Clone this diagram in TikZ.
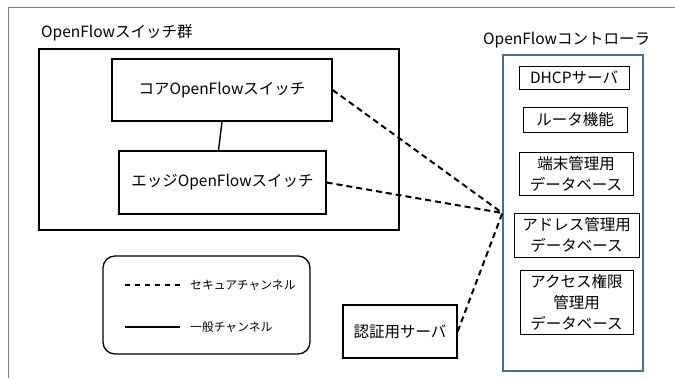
\documentclass[tikz,border=0pt]{standalone}
\usepackage{fontspec}
\setmainfont{Noto Sans CJK JP}
\usepackage{tikz}
\usetikzlibrary{arrows.meta}
\usetikzlibrary{positioning}

\definecolor{ctrlblue}{RGB}{70,110,155}
\definecolor{framegray}{RGB}{130,130,130}

\begin{document}
\begin{tikzpicture}[x=1pt, y=-1pt]
	\useasboundingbox (0,0) rectangle (675,378);
	\draw [framegray, line width=1pt] (8,378) -- (8,7) -- (675,7);
	% boxes
	\begin{scope}[every node/.style = {rectangle, draw, line width=1.3pt,
			font = \fontsize{15.5}{21}\selectfont, align = center, inner sep = 0pt}]
		\node [minimum width=360, minimum height=181] (group) at (219,139.5) {};
		\node [minimum width=220, minimum height=62] (core) at (222,90) {コアOpenFlowスイッチ};
		\node [minimum width=207, minimum height=63] (edge) at (222.5,182.5) {エッジOpenFlowスイッチ};
		\node [minimum width=114, minimum height=53] (auth) at (400,331.5) {認証用サーバ};
		\node [draw=ctrlblue, line width=1.2pt, minimum width=140, minimum height=316] (ctrl) at (573,213) {};
		\node [line width=0.8pt, minimum width=110, minimum height=23] (dhcp) at (574,77.5) {DHCPサーバ};
		\node [line width=0.8pt, minimum width=104, minimum height=25] (router) at (575,119.5) {ルータ機能};
		\node [line width=0.8pt, minimum width=114, minimum height=43] (termdb) at (576,173.5) {端末管理用\\データベース};
		\node [line width=0.8pt, minimum width=125, minimum height=44] (addrdb) at (576.5,235) {アドレス管理用\\データベース};
		\node [line width=0.8pt, minimum width=113, minimum height=64] (accessdb) at (576.5,302) {アクセス権限\\管理用\\データベース};
		\node [rounded corners=12pt, minimum width=207, minimum height=98] (legend) at (206.5,305) {};
	\end{scope}
	% labels
	\node [anchor=west, inner sep=0pt, font=\fontsize{15.5}{21}\selectfont] (grouplabel) at (41,33) {OpenFlowスイッチ群};
	\node [anchor=west, inner sep=0pt, font=\fontsize{15.5}{21}\selectfont] (ctrllabel) at (483,40) {OpenFlowコントローラ};
	% legend
	\coordinate (secA) at (125,285);
	\coordinate (secB) at (180,285);
	\coordinate (genA) at (125,327);
	\coordinate (genB) at (180,327);
	\node [anchor=west, inner sep=0pt, font=\fontsize{11.8}{14}\selectfont, right=10pt of secB] (seclabel) {セキュアチャンネル};
	\node [anchor=west, inner sep=0pt, font=\fontsize{11.8}{14}\selectfont, right=10pt of genB] (genlabel) {一般チャンネル};
	% channels
	\begin{scope}[every edge/.style={draw=black, line width=2pt}]
		\path [dash pattern=on 5pt off 5pt] (secA) edge (secB);
		\path (genA) edge (genB);
		\path (core.south) edge [line width=1.4pt] ([xshift=-4pt]edge.north);
		\path [dash pattern=on 6pt off 4pt] (core.east) edge (ctrl.west);
		\path [dash pattern=on 6pt off 4pt] (edge.east) edge (ctrl.west);
		\path [dash pattern=on 6pt off 4pt] (auth.east) edge (ctrl.west);
	\end{scope}
\end{tikzpicture}
\end{document}
